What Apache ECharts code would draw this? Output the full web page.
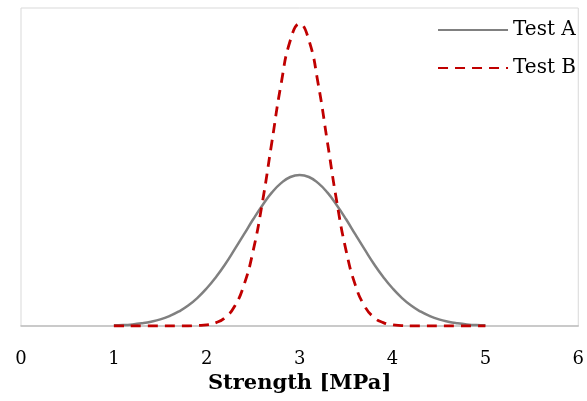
<!DOCTYPE html>
<html>
<head>
<meta charset="utf-8">
<script src="https://cdn.jsdelivr.net/npm/echarts@6/dist/echarts.min.js"></script>
<style>
  html, body { margin: 0; padding: 0; background: #fff; }
  #chart { width: 587px; height: 401px; }
</style>
</head>
<body>
<div id="chart"></div>
<script>
// Strength values (MPa) at which both distributions are sampled
const strength = [
  1.0, 1.1, 1.2, 1.3, 1.4, 1.5, 1.6, 1.7, 1.8, 1.9,
  2.0, 2.1, 2.2, 2.3, 2.4, 2.5, 2.6, 2.7, 2.8, 2.9,
  3.0, 3.1, 3.2, 3.3, 3.4, 3.5, 3.6, 3.7, 3.8, 3.9,
  4.0, 4.1, 4.2, 4.3, 4.4, 4.5, 4.6, 4.7, 4.8, 4.9, 5.0
];

// Probability density, Test A (wider spread)
const testA = [
  0.003, 0.004, 0.007, 0.012, 0.019, 0.029, 0.044, 0.064, 0.090, 0.124,
  0.166, 0.216, 0.273, 0.337, 0.403, 0.470, 0.532, 0.587, 0.629, 0.656,
  0.665, 0.656, 0.629, 0.587, 0.532, 0.470, 0.403, 0.337, 0.273, 0.216,
  0.166, 0.124, 0.090, 0.064, 0.044, 0.029, 0.019, 0.012, 0.007, 0.004, 0.003
];

// Probability density, Test B (narrower spread)
const testB = [
  0.000, 0.000, 0.000, 0.000, 0.000, 0.000, 0.000, 0.000, 0.000, 0.002,
  0.005, 0.015, 0.038, 0.087, 0.180, 0.332, 0.547, 0.807, 1.065, 1.258,
  1.330, 1.258, 1.065, 0.807, 0.547, 0.332, 0.180, 0.087, 0.038, 0.015,
  0.005, 0.002, 0.000, 0.000, 0.000, 0.000, 0.000, 0.000, 0.000, 0.000, 0.000
];

const xTicks = [0, 1, 2, 3, 4, 5, 6];

const pairs = (ys) => strength.map((x, i) => [x, ys[i]]);
const serif = '"DejaVu Serif", "Liberation Serif", serif';

const chart = echarts.init(document.getElementById('chart'), null, { renderer: 'canvas' });
chart.setOption({
  animation: false,
  backgroundColor: '#ffffff',
  grid: {
    left: 21, right: 6, top: 8, bottom: 75,
    show: true,
    borderColor: '#d9d9d9',
    borderWidth: 1
  },
  legend: {
    orient: 'vertical',
    right: 6,
    top: 15,
    itemWidth: 70,
    itemHeight: 14,
    itemGap: 18,
    itemStyle: { opacity: 0 },
    textStyle: { fontFamily: serif, fontSize: 20, color: '#000' },
    data: ['Test A', 'Test B']
  },
  xAxis: {
    type: 'value',
    min: xTicks[0],
    max: xTicks[xTicks.length - 1],
    interval: 1,
    name: 'Strength [MPa]',
    nameLocation: 'middle',
    nameGap: 46,
    nameTextStyle: { fontFamily: serif, fontSize: 21, fontWeight: 'bold', color: '#000' },
    axisLine: { show: true, lineStyle: { color: '#bfbfbf', width: 1.5 } },
    axisTick: { show: false },
    splitLine: { show: false },
    axisLabel: {
      margin: 24,
      fontFamily: serif,
      fontSize: 18,
      color: '#000'
    }
  },
  yAxis: {
    type: 'value',
    min: 0,
    max: 1.4,
    show: false,
    splitLine: { show: false }
  },
  series: [
    {
      name: 'Test A',
      type: 'line',
      data: pairs(testA),
      smooth: true,
      symbol: 'none',
      lineStyle: { color: '#808080', width: 2.5 },
      itemStyle: { color: '#808080' }
    },
    {
      name: 'Test B',
      type: 'line',
      data: pairs(testB),
      smooth: true,
      symbol: 'none',
      lineStyle: { color: '#c00000', width: 2.8, type: [10, 7] },
      itemStyle: { color: '#c00000' }
    }
  ]
});
</script>
</body>
</html>
